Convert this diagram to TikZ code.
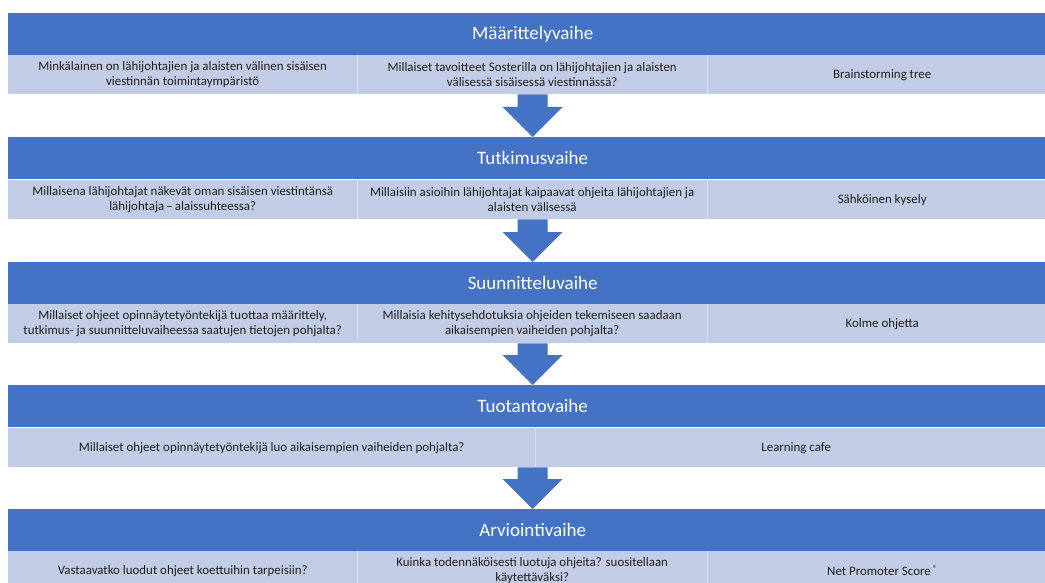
\documentclass[tikz,border=0pt]{standalone}
\usepackage{fontspec}
\setmainfont{Carlito}
\usetikzlibrary{calc}
\definecolor{hdrblue}{HTML}{4472C4}
\definecolor{bandblue}{HTML}{C3CCE6}
\definecolor{txtdark}{HTML}{1E1E1E}
\begin{document}
\begin{tikzpicture}[x=1pt,y=-1pt,
  hdr/.style={fill=hdrblue, text=white, inner sep=0pt, anchor=north west,
    minimum width=1049pt, minimum height=42pt, font=\fontsize{19}{22}\selectfont},
  band/.style={fill=bandblue, inner sep=0pt, anchor=north west,
    minimum width=1049pt, minimum height=39pt},
  cell/.style={inner sep=0pt, anchor=north west, minimum height=39pt,
    text=txtdark, align=center, font=\fontsize{12.9}{14.3}\selectfont},
  sep/.style={draw=white, draw opacity=0.4, line width=0.8pt},
  barrow/.style={fill=hdrblue}]
\useasboundingbox (0,0) rectangle (1045,583);
\clip (0,0) rectangle (1045,583);
\fill[white] (0,0) rectangle (1045,583);

% headers and bands
\node[hdr]  (h1) at (8,13)  {Määrittelyvaihe};
\node[band] (b1) at (8,55)  {};
\node[hdr]  (h2) at (8,137) {Tutkimusvaihe};
\node[band] (b2) at (8,180) {};
\node[hdr]  (h3) at (8,262) {Suunnitteluvaihe};
\node[band] (b3) at (8,304) {};
\node[hdr]  (h4) at (8,385) {Tuotantovaihe};
\node[band] (b4) at (8,428) {};
\node[hdr]  (h5) at (8,509) {Arviointivaihe};
\node[band] (b5) at (8,551) {};

% row 1
\node[cell, minimum width=349pt] (c11) at (8,55)
  {Minkälainen on lähijohtajien ja alaisten välinen sisäisen\\viestinnän toimintaympäristö};
\node[cell, minimum width=350pt] (c12) at (357,55)
  {Millaiset tavoitteet Sosterilla on lähijohtajien ja alaisten\\välisessä sisäisessä viestinnässä?};
\node[cell, minimum width=350pt] (c13) at (707,55) {Brainstorming tree};
% row 2
\node[cell, minimum width=349pt] (c21) at (8,180)
  {Millaisena lähijohtajat näkevät oman sisäisen viestintänsä\\lähijohtaja\,–\,alaissuhteessa?};
\node[cell, minimum width=350pt] (c22) at (357,180)
  {Millaisiin asioihin lähijohtajat kaipaavat ohjeita lähijohtajien ja\\alaisten välisessä};
\node[cell, minimum width=350pt] (c23) at (707,180) {Sähköinen kysely};
% row 3
\node[cell, minimum width=349pt] (c31) at (8,304)
  {Millaiset ohjeet opinnäytetyöntekijä tuottaa määrittely,\\tutkimus- ja suunnitteluvaiheessa saatujen tietojen pohjalta?};
\node[cell, minimum width=350pt] (c32) at (357,304)
  {Millaisia kehitysehdotuksia ohjeiden tekemiseen saadaan\\aikaisempien vaiheiden pohjalta?};
\node[cell, minimum width=350pt] (c33) at (707,304) {Kolme ohjetta};
% row 4
\node[cell, minimum width=527pt] (c41) at (8,428)
  {Millaiset ohjeet opinnäytetyöntekijä luo aikaisempien vaiheiden pohjalta?};
\node[cell, minimum width=522pt] (c42) at (535,428) {Learning cafe};
% row 5
\node[cell, minimum width=349pt] (c51) at (8,551)
  {Vastaavatko luodut ohjeet koettuihin tarpeisiin?};
\node[cell, minimum width=350pt] (c52) at (357,551)
  {Kuinka todennäköisesti luotuja ohjeita? suositellaan\\käytettäväksi?};
\node[cell, minimum width=350pt] (c53) at (707,551)
  {Net Promoter Score\,\raisebox{0.3em}{\fontsize{8.5}{9}\selectfont ®}};

% cell separators
\foreach \c in {c11,c12,c21,c22,c31,c32,c41,c51,c52}
  \draw[sep] (\c.north east) -- (\c.south east);

% block arrows
\foreach \b/\h in {b1/h2,b2/h3,b3/h4,b4/h5}
  \fill[barrow] ($(\b.south)+(-15,0)$) -- ($(\b.south)+(15,0)$)
    -- ($(\h.north)+(15,-30)$) -- ($(\h.north)+(30,-30)$) -- (\h.north)
    -- ($(\h.north)+(-30,-30)$) -- ($(\h.north)+(-15,-30)$) -- cycle;
\end{tikzpicture}
\end{document}
